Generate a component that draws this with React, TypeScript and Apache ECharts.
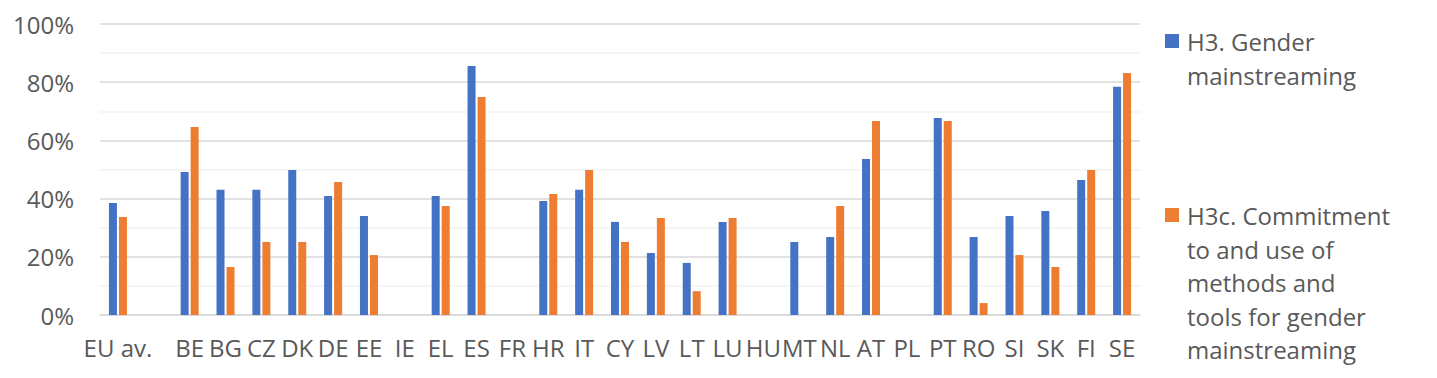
import React, { useEffect, useRef } from "react";
import * as echarts from "echarts";

const categories = ["EU av.", "", "BE", "BG", "CZ", "DK", "DE", "EE", "IE", "EL", "ES", "FR", "HR", "IT", "CY", "LV", "LT", "LU", "HU", "MT", "NL", "AT", "PL", "PT", "RO", "SI", "SK", "FI", "SE"];

const h3Values = [38.5, null, 49.1, 43.0, 43.0, 49.8, 40.9, 34.0, null, 40.9, 85.6, null, 39.2, 43.0, 32.0, 21.3, 17.9, 32.0, null, 25.1, 26.8, 53.6, null, 67.7, 26.8, 34.0, 35.7, 46.4, 78.4];

const h3cValues = [33.7, null, 64.6, 16.5, 25.1, 25.1, 45.7, 20.6, null, 37.5, 74.9, null, 41.6, 49.8, 25.1, 33.3, 8.2, 33.3, null, null, 37.5, 66.7, null, 66.7, 4.1, 20.6, 16.5, 49.8, 83.2];

const seriesNames = ["H3. Gender\nmainstreaming", "H3c. Commitment\nto and use of\nmethods and\ntools for gender\nmainstreaming"];
const colors = ["#4472C4", "#ED7D31"];

const FONT = "'Open Sans', sans-serif";
const TXT = "#595959";

export default function App() {
  const ref = useRef<HTMLDivElement>(null);
  useEffect(() => {
    document.body.style.margin = "0";
    const chart = echarts.init(ref.current!, null, { renderer: "svg" });
    chart.setOption({
      animation: false,
      textStyle: { fontFamily: FONT },
      grid: { left: 100, right: 297, top: 24, bottom: 63 },
      xAxis: {
        type: "category",
        data: categories,
        axisTick: { show: false },
        axisLine: { lineStyle: { color: "#d9d9d9", width: 1.5 } },
        axisLabel: { interval: 0, color: TXT, fontSize: 24, fontFamily: FONT, margin: 20 },
      },
      yAxis: {
        type: "value",
        min: 0,
        max: 100,
        interval: 20,
        axisLabel: { formatter: "{value}%", color: TXT, fontSize: 24, fontFamily: FONT, margin: 26 },
        splitLine: { lineStyle: { color: "#d9d9d9", width: 1.5 } },
        minorTick: { show: false, splitNumber: 2 },
        minorSplitLine: { show: true, lineStyle: { color: "#f2f2f2", width: 1.5 } },
        axisLine: { show: false },
        axisTick: { show: false },
      },
      series: [
        { type: "bar", name: seriesNames[0], data: h3Values, barWidth: 8, barGap: "25%", itemStyle: { color: colors[0] } },
        { type: "bar", name: seriesNames[1], data: h3cValues, barWidth: 8, barGap: "25%", itemStyle: { color: colors[1] } },
      ],
      graphic: [
        { type: "rect", shape: { x: 1165, y: 34, width: 14, height: 14 }, style: { fill: colors[0] } },
        { type: "text", x: 1187, y: 25, style: { text: seriesNames[0], fill: TXT, font: `24px ${FONT}`, lineHeight: 33.5, verticalAlign: "top" } },
        { type: "rect", shape: { x: 1165, y: 208, width: 14, height: 14 }, style: { fill: colors[1] } },
        { type: "text", x: 1187, y: 199, style: { text: seriesNames[1], fill: TXT, font: `24px ${FONT}`, lineHeight: 33.5, verticalAlign: "top" } },
      ],
    });
    return () => chart.dispose();
  }, []);
  return <div ref={ref} style={{ width: 1437, height: 378 }} />;
}
